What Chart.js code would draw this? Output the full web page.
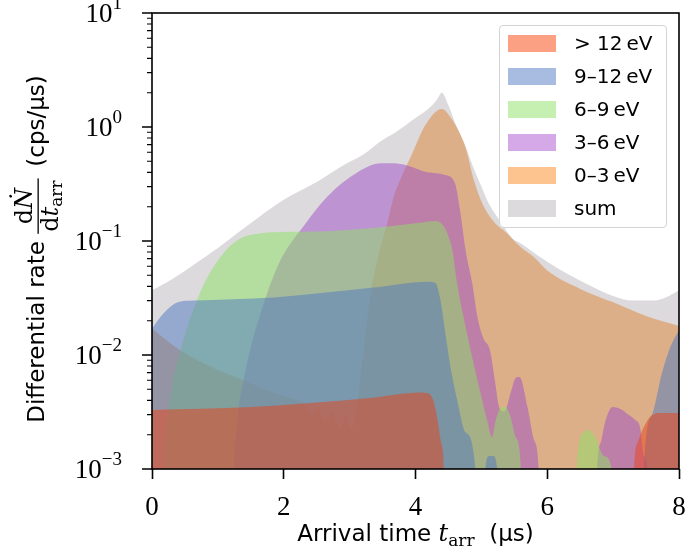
<!DOCTYPE html>
<html>
<head>
<meta charset="utf-8">
<title>Arrival time spectrum</title>
<script src="https://cdn.jsdelivr.net/npm/chart.js@4.4.0/dist/chart.umd.min.js"></script>
<style>
  body { margin: 0; background: #fff; }
  #wrap { position: relative; width: 685px; height: 552px; }
  #arrival-chart-legend {
    position: absolute; left: 499px; top: 25px; width: 166px; height: 201px;
    border: 1px solid #d4d4d4; border-radius: 4px; background: rgba(255, 255, 255, 0.8);
    font-family: "DejaVu Sans", sans-serif; font-size: 20px; color: #000;
  }
  #arrival-chart-legend ul { list-style: none; margin: 0; padding: 0; }
  #arrival-chart-legend li { position: absolute; left: 8px; height: 33px; line-height: 33px; white-space: nowrap; }
  #arrival-chart-legend li span { position: absolute; left: 0; top: 8px; width: 48px; height: 17px; }
  #arrival-chart-legend li b { position: absolute; left: 66px; font-weight: normal; }
</style>
</head>
<body>
<div id="wrap">
  <canvas id="arrival-chart" width="685" height="552"></canvas>
  <div id="arrival-chart-legend"></div>
</div>
<script>
  'use strict';

  // values (time in us, rate in cps/us)
  const sumX = [0, 0.3, 0.6, 1.0, 1.4, 2.0, 2.5, 2.9, 3.2, 3.5, 3.7, 4.0, 4.2, 4.32, 4.4, 4.5, 4.63, 4.75, 4.86, 5.0, 5.1, 5.3, 5.47, 5.6, 5.85, 6.15, 6.6, 7.0, 7.3, 7.6, 7.8, 8.0];
  const sumY = [0.037, 0.046, 0.06, 0.087, 0.13, 0.23, 0.33, 0.46, 0.57, 0.77, 0.9, 1.2, 1.45, 1.72, 2.0, 1.55, 0.98, 0.7, 0.47, 0.3, 0.22, 0.145, 0.105, 0.095, 0.075, 0.058, 0.042, 0.033, 0.03, 0.03, 0.032, 0.037];

  const orangeX = [0, 0.43, 1.0, 1.4, 1.75, 2.1, 2.3, 2.42, 2.52, 2.63, 2.73, 2.85, 2.95, 3.02, 3.12, 3.2, 3.32, 3.47, 3.58, 3.67, 3.8, 3.93, 4.15, 4.4, 4.53, 4.65, 4.76, 4.88, 5.02, 5.18, 5.39, 5.6, 5.8, 6.0, 6.5, 7.0, 7.5, 8.0];
  const orangeY = [0.017, 0.011, 0.0074, 0.006, 0.0049, 0.0042, 0.0038, 0.003, 0.0035, 0.0026, 0.0032, 0.0023, 0.003, 0.0022, 0.004, 0.01, 0.035, 0.089, 0.15, 0.245, 0.38, 0.55, 1.04, 1.44, 1.22, 0.94, 0.66, 0.35, 0.21, 0.15, 0.117, 0.088, 0.072, 0.055, 0.038, 0.029, 0.022, 0.018];

  const purpleX = [0, 1.2, 1.24, 1.27, 1.31, 1.39, 1.5, 1.65, 1.75, 1.95, 2.3, 2.66, 3.12, 3.47, 3.67, 3.87, 4.18, 4.45, 4.6, 4.68, 4.76, 4.86, 4.94, 5.03, 5.13, 5.21, 5.27, 5.35, 5.45, 5.52, 5.58, 5.7, 5.8, 5.87, 5.92, 6.72, 6.76, 6.81, 6.88, 6.99, 7.14, 7.23, 7.33, 7.41, 7.47, 7.52, 7.56, 8.0];
  const purpleY = [1e-5, 1e-5, 0.001, 0.0019, 0.0033, 0.006, 0.0118, 0.0234, 0.035, 0.068, 0.135, 0.245, 0.40, 0.48, 0.48, 0.46, 0.40, 0.38, 0.32, 0.18, 0.083, 0.043, 0.0215, 0.014, 0.011, 0.0057, 0.0035, 0.0032, 0.0048, 0.0063, 0.0064, 0.0035, 0.0018, 0.001, 1e-5, 1e-5, 0.001, 0.0017, 0.0026, 0.0035, 0.0033, 0.003, 0.0027, 0.0023, 0.0013, 0.001, 1e-5, 1e-5];

  const greenX = [0, 0.14, 0.16, 0.2, 0.26, 0.33, 0.43, 0.54, 0.69, 0.84, 1.09, 1.34, 1.65, 1.95, 2.66, 3.36, 4.0, 4.3, 4.43, 4.5, 4.56, 4.63, 4.73, 4.86, 4.98, 5.1, 5.16, 5.22, 5.3, 5.36, 5.44, 5.52, 5.6, 5.64, 6.4, 6.45, 6.55, 6.63, 6.73, 6.86, 6.98, 7.02, 8.0];
  const greenY = [1e-5, 1e-5, 0.001, 0.0022, 0.0037, 0.0065, 0.011, 0.018, 0.031, 0.048, 0.079, 0.105, 0.117, 0.12, 0.122, 0.13, 0.143, 0.15, 0.135, 0.11, 0.083, 0.043, 0.0215, 0.0096, 0.0048, 0.0025, 0.0019, 0.0027, 0.0035, 0.0035, 0.0029, 0.0019, 0.001, 1e-5, 1e-5, 0.0011, 0.0021, 0.0022, 0.0019, 0.0013, 0.001, 1e-5, 1e-5];

  const blueX = [0, 0.17, 0.39, 0.63, 1.85, 3.36, 4.18, 4.3, 4.38, 4.45, 4.53, 4.63, 4.76, 4.91, 4.95, 5.02, 5.06, 5.12, 5.18, 5.24, 5.28, 7.42, 7.47, 7.6, 7.74, 7.87, 8.0];
  const blueY = [0.017, 0.023, 0.029, 0.030, 0.032, 0.039, 0.044, 0.043, 0.030, 0.016, 0.0079, 0.0041, 0.0021, 0.001, 1e-5, 1e-5, 0.001, 0.0013, 0.0013, 0.001, 1e-5, 1e-5, 0.001, 0.0031, 0.0069, 0.0118, 0.0166];

  const redX = [0, 1.5, 3.3, 4.07, 4.2, 4.27, 4.33, 4.39, 4.43, 4.47, 7.28, 7.32, 7.37, 7.46, 7.57, 7.72, 8.0];
  const redY = [0.0033, 0.0035, 0.0042, 0.0047, 0.0046, 0.004, 0.0028, 0.0017, 0.001, 1e-5, 1e-5, 0.001, 0.0017, 0.0023, 0.0029, 0.0031, 0.0031];

  const seriesLabels = ['> 12\u2009eV', '9\u201312\u2009eV', '6\u20139\u2009eV', '3\u20136\u2009eV', '0\u20133\u2009eV', 'sum'];
  const xTicks = [0, 2, 4, 6, 8];
  const yTicks = [0.001, 0.01, 0.1, 1, 10];
  const yTickExps = ['\u22123', '\u22122', '\u22121', '0', '1'];

  const sansFamily = '"DejaVu Sans", sans-serif';
  const serifFamily = '"Liberation Serif", serif';
  const mathFamily = '"DejaVu Serif", serif';

  // fill colours (half alpha) and the lighter swatches used in the legend box
  const fillColors = [
    'rgba(236, 66, 24, 0.5)',
    'rgba(79, 121, 193, 0.5)',
    'rgba(141, 225, 101, 0.5)',
    'rgba(160, 80, 200, 0.5)',
    'rgba(222, 134, 56, 0.5)',
    'rgba(185, 181, 185, 0.5)'
  ];
  const legendColors = ['#fca084', '#a7bce0', '#c6f0b2', '#d5a8e8', '#fdc48f', '#dcdadc'];

  function pts(xs, ys) {
    return xs.map(function (x, i) { return { x: x, y: ys[i] }; });
  }

  function area(i, xs, ys) {
    return {
      label: seriesLabels[i],
      data: pts(xs, ys),
      backgroundColor: fillColors[i],
      legendColor: legendColors[i],
      borderColor: 'transparent',
      borderWidth: 0,
      pointRadius: 0,
      fill: 'start',
      cubicInterpolationMode: 'monotone'
    };
  }

  function drawXTitle(ctx, ca) {
    const sans = '23px ' + sansFamily;
    const it = 'italic 24px ' + mathFamily;
    const sub = '17px ' + mathFamily;
    ctx.font = sans;
    const w1 = ctx.measureText('Arrival time ').width;
    const w4 = ctx.measureText('  (\u03bcs)').width;
    ctx.font = it;
    const wt = ctx.measureText('t').width;
    ctx.font = sub;
    const wa = ctx.measureText('arr').width;
    const total = w1 + wt + wa + w4;
    let x = (ca.left + ca.right) / 2 - total / 2;
    const y = 541;
    ctx.font = sans; ctx.fillText('Arrival time ', x, y); x += w1;
    ctx.font = it; ctx.fillText('t', x, y); x += wt;
    ctx.font = sub; ctx.fillText('arr', x, y + 5); x += wa;
    ctx.font = sans; ctx.fillText('  (\u03bcs)', x, y);
  }

  function drawYTitle(ctx, ca) {
    const sans = '23px ' + sansFamily;
    const rm = '24px ' + mathFamily;
    const it = 'italic 24px ' + mathFamily;
    const sub = '17px ' + mathFamily;
    ctx.font = sans;
    const w1 = ctx.measureText('Differential rate').width;
    const w3 = ctx.measureText('(cps/\u03bcs)').width;
    const sp = ctx.measureText(' ').width;
    ctx.font = rm;
    const wd = ctx.measureText('d').width;
    ctx.font = it;
    const wN = ctx.measureText('\u1e44').width;
    const wt = ctx.measureText('t').width;
    ctx.font = sub;
    const wa = ctx.measureText('arr').width;
    const wNum = wd + wN, wDen = wd + wt + wa;
    const wFrac = Math.max(wNum, wDen) + 4;
    const total = w1 + sp + wFrac + 1.6 * sp + w3;

    ctx.save();
    ctx.translate(44, (ca.top + ca.bottom) / 2 + 8);
    ctx.rotate(-Math.PI / 2);
    let u = -total / 2;
    ctx.font = sans; ctx.fillText('Differential rate', u, 0); u += w1 + sp;
    ctx.fillRect(u, -6.5, wFrac, 1.3);
    let nu = u + (wFrac - wNum) / 2;
    ctx.font = rm; ctx.fillText('d', nu, -12);
    ctx.font = it; ctx.fillText('\u1e44', nu + wd, -12);
    let du = u + (wFrac - wDen) / 2;
    ctx.font = rm; ctx.fillText('d', du, 14);
    ctx.font = it; ctx.fillText('t', du + wd, 14);
    ctx.font = sub; ctx.fillText('arr', du + wd + wt, 18);
    u += wFrac + 1.6 * sp;
    ctx.font = sans; ctx.fillText('(cps/\u03bcs)', u, 0);
    ctx.restore();
  }

  const axesPlugin = {
    id: 'axesDecor',
    afterDraw: function (chart) {
      const ctx = chart.ctx;
      const ca = chart.chartArea;
      const ys = chart.scales.y;
      ctx.save();
      ctx.fillStyle = '#000';
      ctx.strokeStyle = '#000';

      // frame
      ctx.lineWidth = 1.6;
      ctx.strokeRect(ca.left, ca.top, ca.right - ca.left, ca.bottom - ca.top);

      // log ticks on the left axis
      ctx.beginPath();
      yTicks.forEach(function (v) {
        const p = Math.round(ys.getPixelForValue(v));
        ctx.moveTo(ca.left - 10, p); ctx.lineTo(ca.left, p);
      });
      ctx.stroke();
      ctx.lineWidth = 1.1;
      ctx.beginPath();
      for (let d = 0; d < yTicks.length - 1; d++) {
        for (let m = 2; m <= 9; m++) {
          const p = ys.getPixelForValue(m * yTicks[d]);
          ctx.moveTo(ca.left - 5, p); ctx.lineTo(ca.left, p);
        }
      }
      ctx.stroke();

      // tick labels 10^n
      ctx.textAlign = 'left';
      ctx.textBaseline = 'alphabetic';
      yTicks.forEach(function (v, i) {
        const p = ys.getPixelForValue(v);
        ctx.font = '19px ' + serifFamily;
        const we = ctx.measureText(yTickExps[i]).width;
        ctx.font = '27px ' + serifFamily;
        const wb = ctx.measureText('10').width;
        const right = ca.left - 30;
        ctx.fillText('10', right - we - wb, p + 9);
        ctx.font = '19px ' + serifFamily;
        ctx.fillText(yTickExps[i], right - we, p - 4);
      });

      drawXTitle(ctx, ca);
      drawYTitle(ctx, ca);
      ctx.restore();
    }
  };

  const ctx = document.getElementById('arrival-chart');
  const chart = new Chart(ctx, {
    type: 'line',
    data: {
      datasets: [
        area(0, redX, redY),
        area(1, blueX, blueY),
        area(2, greenX, greenY),
        area(3, purpleX, purpleY),
        area(4, orangeX, orangeY),
        area(5, sumX, sumY)
      ]
    },
    options: {
      responsive: false,
      animation: false,
      devicePixelRatio: 1,
      layout: { padding: { left: 0, right: 6, top: 13, bottom: 0 } },
      scales: {
        x: {
          type: 'linear',
          min: 0,
          max: 8,
          afterBuildTicks: function (s) { s.ticks = xTicks.map(function (v) { return { value: v }; }); },
          afterFit: function (s) { s.height = 83; s.paddingLeft = 0; s.paddingRight = 0; },
          grid: { display: true, drawOnChartArea: false, drawTicks: true, tickLength: 10, tickWidth: 1.6, tickColor: '#000' },
          border: { display: false },
          ticks: { color: '#000', padding: 13, maxRotation: 0, font: { family: serifFamily, size: 27 } }
        },
        y: {
          type: 'logarithmic',
          min: 0.001,
          max: 10,
          afterFit: function (s) { s.width = 152; s.paddingTop = 0; s.paddingBottom = 0; },
          grid: { display: false },
          border: { display: false },
          ticks: { display: false }
        }
      },
      plugins: {
        legend: { display: false },
        tooltip: { enabled: false }
      }
    },
    plugins: [axesPlugin]
  });

  // legend box in the upper right, same order as the datasets
  const ul = document.createElement('ul');
  chart.data.datasets.forEach(function (ds, i) {
    ul.innerHTML += '<li style="top:' + (1 + 33 * i) + 'px"><span style="background-color:' + ds.legendColor + '"></span><b></b></li>';
  });
  document.getElementById('arrival-chart-legend').appendChild(ul);
  ul.querySelectorAll('b').forEach(function (b, i) { b.textContent = seriesLabels[i]; });
</script>
</body>
</html>
